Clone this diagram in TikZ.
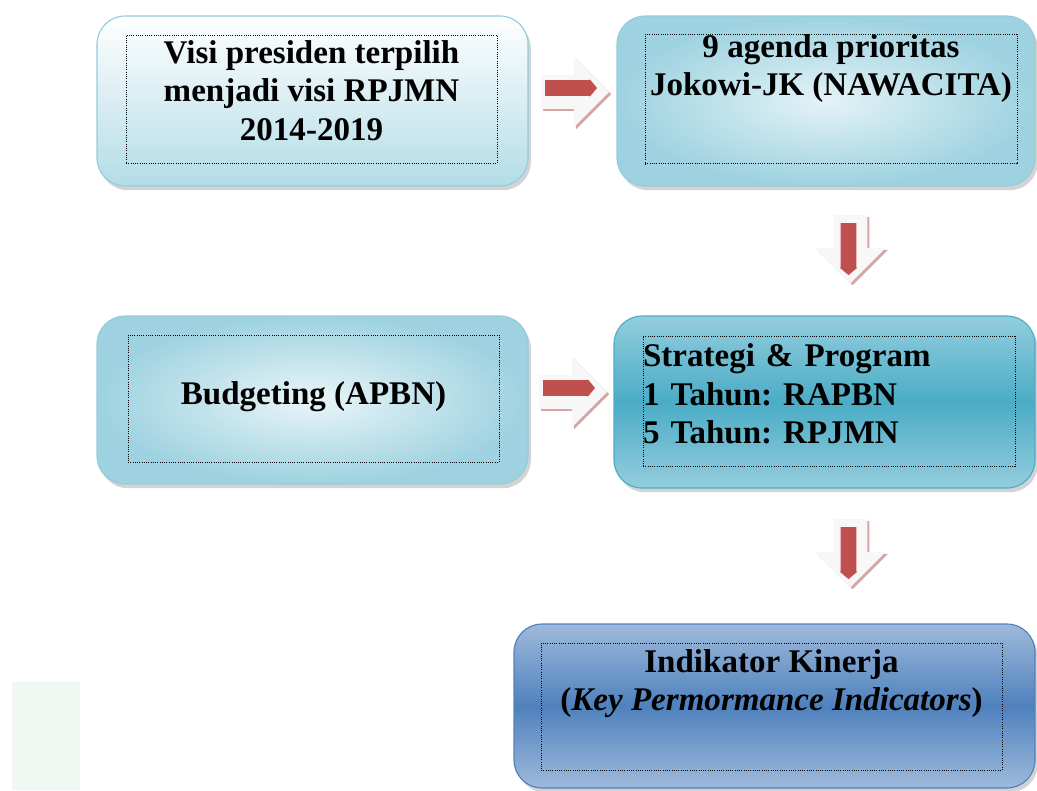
\documentclass[tikz,border=0pt]{standalone}
\usepackage{fontspec}
\setmainfont{Liberation Serif}
\usetikzlibrary{shapes.arrows,shadows,calc,positioning}
\newcommand\px{0.025cm}
\definecolor{lineA}{HTML}{93CDDD}
\definecolor{lineB}{HTML}{4BACC6}
\definecolor{lineC}{HTML}{4F81BD}
\definecolor{arrRed}{HTML}{C0504D}
\definecolor{paleGreen}{HTML}{F1F8F3}

\begin{document}
\begin{tikzpicture}[x=\px,y=-\px,
        box/.style={rounded corners=0.7cm,line width=0.8pt,
          drop shadow={opacity=0.35,shadow xshift=2pt,shadow yshift=-3pt}},
        txtbox/.style={draw,densely dotted,line width=0.6pt,inner sep=0pt,
          font=\fontsize{23.5}{27.5}\selectfont\bfseries\frenchspacing,align=center},
        blockarr/.style={single arrow,fill=gray!6,inner sep=16.5*\px,anchor=tip,
          minimum height=68*\px,single arrow head extend=18.5*\px,
          drop shadow={fill=red!40!gray,opacity=0.5,shadow xshift=1.5pt,shadow yshift=-1.5pt}},
        redarr/.style={single arrow,fill=arrRed,inner sep=7.5*\px,anchor=tip,
          minimum height=52*\px,single arrow head extend=1*\px,
          single arrow tip angle=100}]
       \useasboundingbox (0,0) rectangle (1037,790);
       \fill[paleGreen] (12,682) rectangle (80,790);
       % boxes
       \node[box,draw=lineA,top color=white,bottom color=lineA!70,
         minimum width=431*\px,minimum height=170*\px] (visiBox) at (312.5,101) {};
       \node[box,draw=lineA,inner color=lineA!25,outer color=lineA!90,
         minimum width=418*\px,minimum height=170*\px] (agendaBox) at (826,101) {};
       \node[box,draw=lineA,inner color=lineA!20,outer color=lineA!90,
         minimum width=431*\px,minimum height=168*\px] (budgetBox) at (312.5,400) {};
       \node[box,draw=lineB,top color=lineA,bottom color=lineA,middle color=lineB,
         minimum width=421*\px,minimum height=172*\px] (strategiBox) at (824.5,402) {};
       \node[box,draw=lineC,top color=lineC!55,bottom color=lineC!55,middle color=lineC,
         minimum width=521*\px,minimum height=164*\px] (kinerjaBox) at (774.5,706) {};
       % texts
       \node[txtbox,minimum width=371*\px,minimum height=128*\px] (visi) at (311.5,99)
         {Visi presiden terpilih\\menjadi visi RPJMN\\2014-2019\\[-15pt]\mbox{}};
       \node[txtbox,minimum width=372*\px,minimum height=128*\px] (agenda) at (831,99)
         {9 agenda prioritas\\Jokowi-JK (NAWACITA)\\[21pt]\mbox{}};
       \node[txtbox,minimum width=371*\px,minimum height=127*\px] (budget) at (313.5,398.5)
         {Budgeting (APBN)\\[-20pt]\mbox{}};
       \node[txtbox,align=left,text width=372*\px,minimum height=130*\px] (strategi) at (829,401)
         {Strategi \& Program\\1 Tahun: RAPBN\\5 Tahun: RPJMN\\[-17pt]\mbox{}};
       \node[txtbox,minimum width=461*\px,minimum height=127*\px] (kinerja) at (771.5,706.5)
         {Indikator Kinerja\\({\itshape Key Permormance Indicators})\\[10pt]\mbox{}};
       % arrows
       \node[blockarr] (arrA) at ($(agendaBox.west)+(-7,-9)$) {};
       \node[redarr] (arrAred) at ($(arrA.tip)+(-12,-4)$) {};
       \node[blockarr,rotate=-90] (arrB) at ($(strategiBox.north)+(26,-32)$) {};
       \node[redarr,rotate=-90] (arrBred) at ($(arrB.tip)+(-2,-8)$) {};
       \node[blockarr] (arrC) at ($(strategiBox.west)+(-6,-10)$) {};
       \node[redarr] (arrCred) at ($(arrC.tip)+(-12,-4)$) {};
       \node[blockarr,rotate=-90] (arrD) at ($(kinerjaBox.north)+(76,-36)$) {};
       \node[redarr,rotate=-90] (arrDred) at ($(arrD.tip)+(-2,-8)$) {};
    \end{tikzpicture}
\end{document}
